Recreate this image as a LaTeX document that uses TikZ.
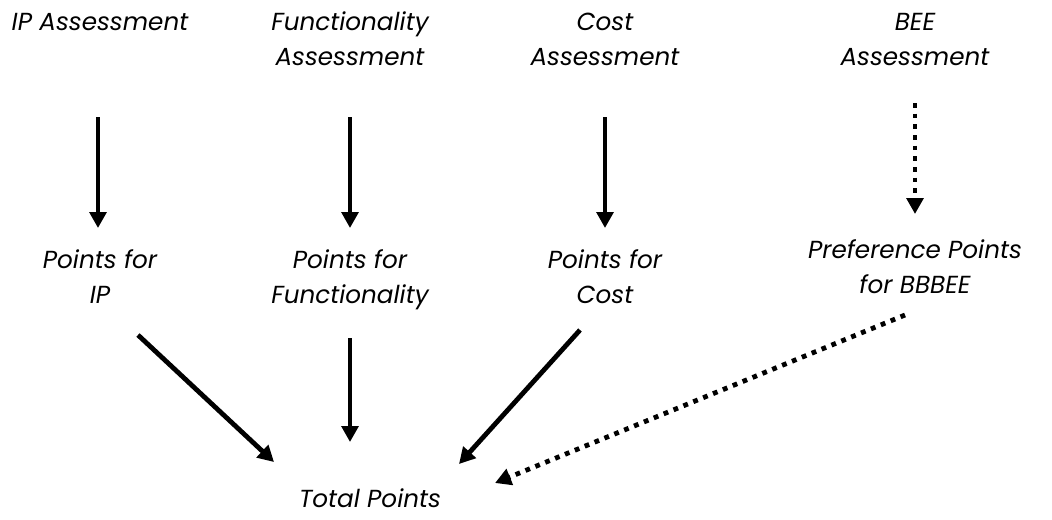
\documentclass[tikz,border=0pt]{standalone}
\usepackage{fontspec}
\setmainfont{Poppins}
\usetikzlibrary{arrows.meta}
\begin{document}
\begin{tikzpicture}[x=0.75pt,y=-0.75pt,
  lbl/.style={font=\itshape\fontsize{18.5}{26}\selectfont, align=center, inner sep=0pt, anchor=base},
  arr/.style={line width=3.6pt, -{Triangle[length=12pt,width=12.5pt]}},
  dotarr/.style={arr, dash pattern=on 3.6pt off 4.4pt}]
\useasboundingbox (0,0) rectangle (1052,519);
% assessments
\node[lbl] (ipa) at (100,30) {IP Assessment};
\node[lbl] (fna) at (350,65) {Functionality\\Assessment};
\node[lbl] (csa) at (605,65) {Cost\\Assessment};
\node[lbl] (bea) at (915,65) {BEE\\Assessment};
% points
\node[lbl] (ipp) at (100,303) {Points for\\IP};
\node[lbl] (fnp) at (350,303) {Points for\\Functionality};
\node[lbl] (csp) at (605,303) {Points for\\Cost};
\node[lbl] (bep) at (915,293) {Preference Points\\for BBBEE};
\node[lbl] (tot) at (370,507) {Total Points};
% arrows
\foreach \n/\x in {ip/98, fn/350, cs/605}
{
  \coordinate (\n a1) at (\x,117);
  \coordinate (\n a2) at (\x,228);
  \draw[arr] (\n a1) -- (\n a2);
}
\coordinate (bea1) at (915,103);
\coordinate (bea2) at (915,214);
\draw[dotarr] (bea1) -- (bea2);
% into total
\coordinate (ipt1) at (138,335);
\coordinate (ipt2) at (274,462);
\coordinate (fnt1) at (350,338);
\coordinate (fnt2) at (350,442);
\coordinate (cst1) at (580,330);
\coordinate (cst2) at (459,464);
\coordinate (bet1) at (905,315);
\coordinate (bet2) at (495,483);
\draw[arr] (ipt1) -- (ipt2);
\draw[arr] (fnt1) -- (fnt2);
\draw[arr] (cst1) -- (cst2);
\draw[dotarr] (bet1) -- (bet2);
\end{tikzpicture}
\end{document}
